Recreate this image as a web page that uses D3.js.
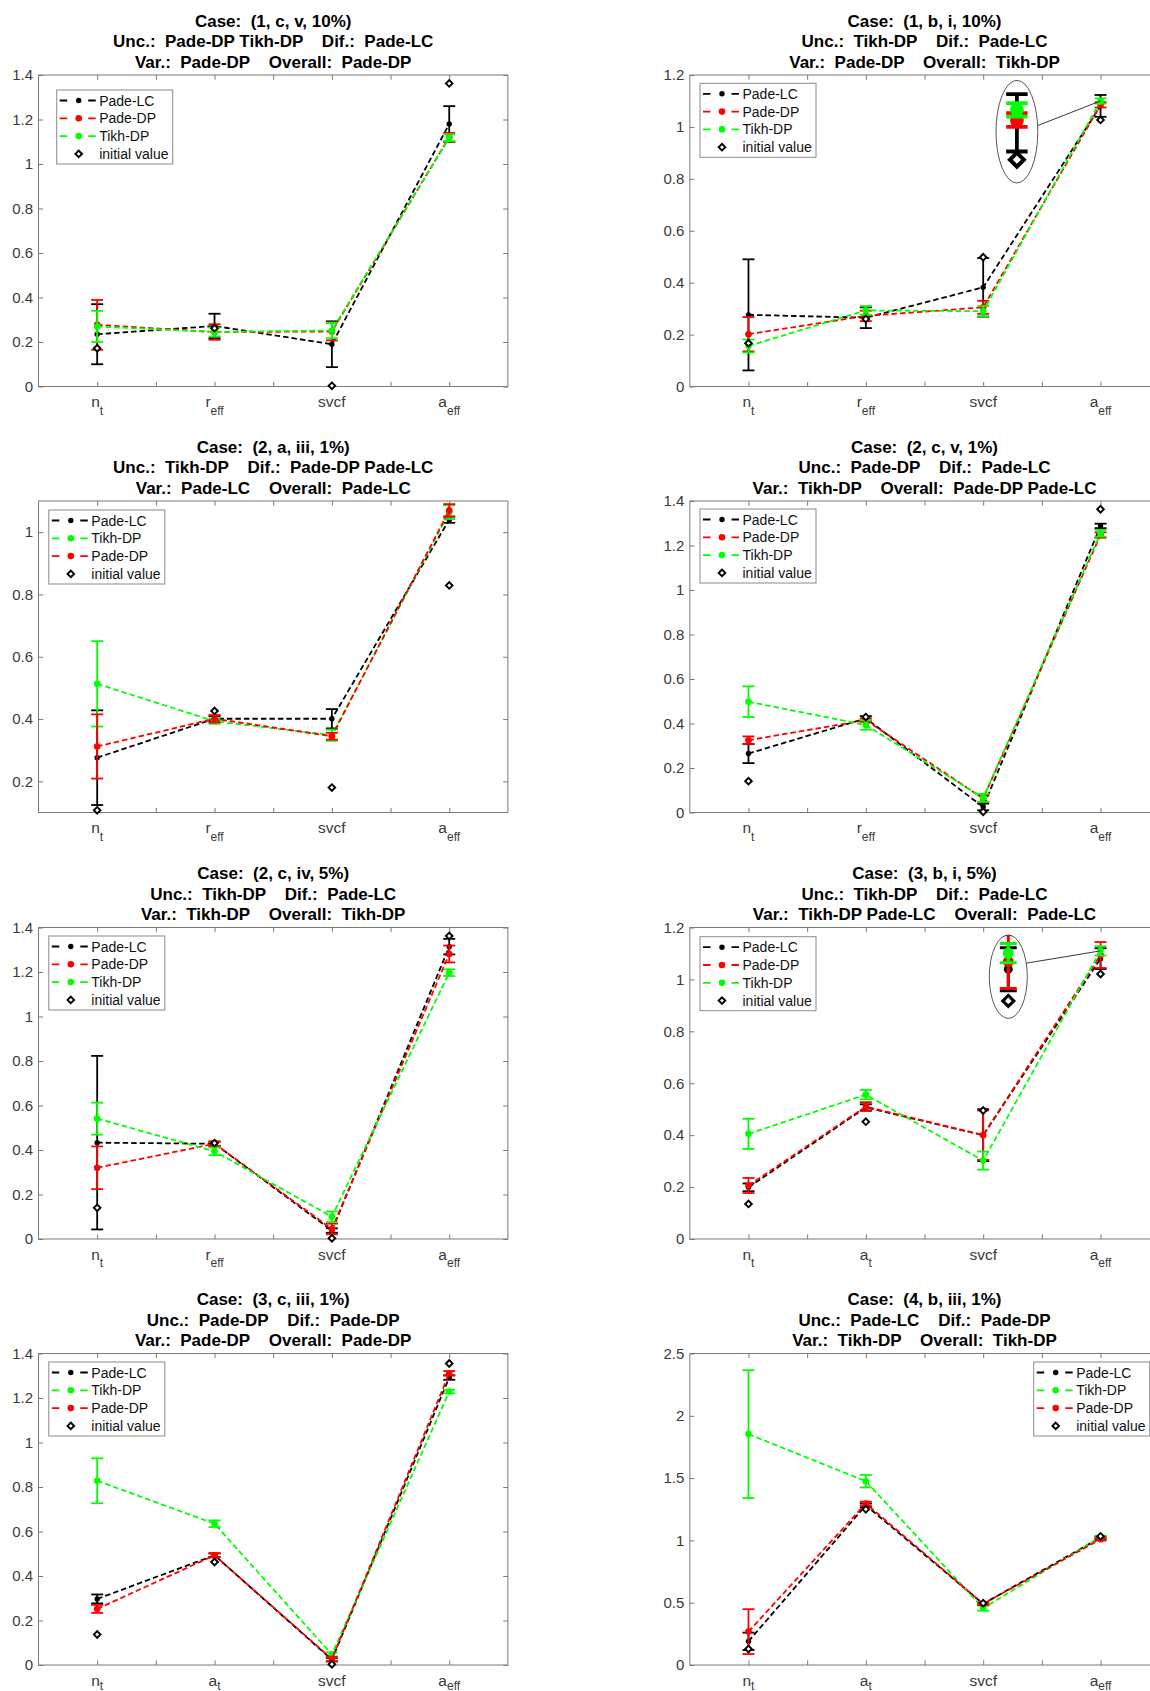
<!DOCTYPE html>
<html>
<head>
<meta charset="utf-8">
<script src="https://cdn.jsdelivr.net/npm/d3@7"></script>
<style>
body { margin: 0; background: #fff; }
text { font-family: "Liberation Sans", Arial, sans-serif; }
</style>
</head>
<body>
<div id="chart"></div>
<script>
// ---- data ----
const titleLines = [
    ["Case:  (1, c, v, 10%)", "Unc.:  Pade-DP Tikh-DP    Dif.:  Pade-LC", "Var.:  Pade-DP    Overall:  Pade-DP"],
    ["Case:  (1, b, i, 10%)", "Unc.:  Tikh-DP    Dif.:  Pade-LC", "Var.:  Pade-DP    Overall:  Tikh-DP"],
    ["Case:  (2, a, iii, 1%)", "Unc.:  Tikh-DP    Dif.:  Pade-DP Pade-LC", "Var.:  Pade-LC    Overall:  Pade-LC"],
    ["Case:  (2, c, v, 1%)", "Unc.:  Pade-DP    Dif.:  Pade-LC", "Var.:  Tikh-DP    Overall:  Pade-DP Pade-LC"],
    ["Case:  (2, c, iv, 5%)", "Unc.:  Tikh-DP    Dif.:  Pade-LC", "Var.:  Tikh-DP    Overall:  Tikh-DP"],
    ["Case:  (3, b, i, 5%)", "Unc.:  Tikh-DP    Dif.:  Pade-LC", "Var.:  Tikh-DP Pade-LC    Overall:  Pade-LC"],
    ["Case:  (3, c, iii, 1%)", "Unc.:  Pade-DP    Dif.:  Pade-DP", "Var.:  Pade-DP    Overall:  Pade-DP"],
    ["Case:  (4, b, iii, 1%)", "Unc.:  Pade-LC    Dif.:  Pade-DP", "Var.:  Tikh-DP    Overall:  Tikh-DP"]
];

// parameter names: [base, subscript]
const paramsReff = [["n", "t"], ["r", "eff"], ["svcf", ""], ["a", "eff"]];
const paramsAt = [["n", "t"], ["a", "t"], ["svcf", ""], ["a", "eff"]];
const panelParams = [paramsReff, paramsReff, paramsReff, paramsReff, paramsReff, paramsAt, paramsAt, paramsAt];

const yDomains = [[0, 1.4], [0, 1.2], [0.1, 1.1], [0, 1.4], [0, 1.4], [0, 1.2], [0, 1.4], [0, 2.5]];
const yTicks = [
    [0, 0.2, 0.4, 0.6, 0.8, 1, 1.2, 1.4],
    [0, 0.2, 0.4, 0.6, 0.8, 1, 1.2],
    [0.2, 0.4, 0.6, 0.8, 1],
    [0, 0.2, 0.4, 0.6, 0.8, 1, 1.2, 1.4],
    [0, 0.2, 0.4, 0.6, 0.8, 1, 1.2, 1.4],
    [0, 0.2, 0.4, 0.6, 0.8, 1, 1.2],
    [0, 0.2, 0.4, 0.6, 0.8, 1, 1.2, 1.4],
    [0, 0.5, 1, 1.5, 2, 2.5]
];

// legend / drawing order of the methods in each panel
const methodOrder = [
    ["Pade-LC", "Pade-DP", "Tikh-DP"],
    ["Pade-LC", "Pade-DP", "Tikh-DP"],
    ["Pade-LC", "Tikh-DP", "Pade-DP"],
    ["Pade-LC", "Pade-DP", "Tikh-DP"],
    ["Pade-LC", "Pade-DP", "Tikh-DP"],
    ["Pade-LC", "Pade-DP", "Tikh-DP"],
    ["Pade-LC", "Tikh-DP", "Pade-DP"],
    ["Pade-LC", "Tikh-DP", "Pade-DP"]
];

const padeLCVal = [
    [0.235, 0.272, 0.19, 1.18],
    [0.276, 0.265, 0.382, 1.081],
    [0.276, 0.401, 0.401, 1.04],
    [0.265, 0.423, 0.025, 1.288],
    [0.433, 0.428, 0.038, 1.314],
    [0.199, 0.507, 0.40, 1.08],
    [0.297, 0.493, 0.024, 1.292],
    [0.19, 1.282, 0.491, 1.022]
];
const padeLCErr = [
    [0.135, 0.055, 0.103, 0.08],
    [0.214, 0.04, 0.113, 0.042],
    [0.152, 0.008, 0.031, 0.01],
    [0.043, 0.01, 0.015, 0.01],
    [0.39, 0.01, 0.01, 0.035],
    [0.015, 0.012, 0.1, 0.04],
    [0.02, 0.008, 0.008, 0.01],
    [0.07, 0.015, 0.01, 0.01]
];
const padeDPVal = [
    [0.277, 0.245, 0.247, 1.12],
    [0.2015, 0.272, 0.305, 1.085],
    [0.312, 0.401, 0.345, 1.07],
    [0.325, 0.415, 0.063, 1.247],
    [0.32, 0.428, 0.045, 1.281],
    [0.206, 0.51, 0.40, 1.094],
    [0.252, 0.493, 0.027, 1.311],
    [0.268, 1.296, 0.491, 1.009]
];
const padeDPErr = [
    [0.112, 0.035, 0.04, 0.02],
    [0.066, 0.02, 0.025, 0.01],
    [0.103, 0.012, 0.011, 0.02],
    [0.017, 0.008, 0.015, 0.012],
    [0.096, 0.01, 0.024, 0.038],
    [0.029, 0.017, 0.095, 0.05],
    [0.018, 0.01, 0.01, 0.01],
    [0.18, 0.015, 0.01, 0.01]
];
const tikhDPVal = [
    [0.27, 0.245, 0.252, 1.118],
    [0.156, 0.293, 0.29, 1.1],
    [0.513, 0.393, 0.348, 1.064],
    [0.498, 0.393, 0.066, 1.255],
    [0.541, 0.394, 0.10, 1.197],
    [0.405, 0.556, 0.302, 1.11],
    [0.828, 0.635, 0.047, 1.229],
    [1.853, 1.475, 0.456, 1.027]
];
const tikhDPErr = [
    [0.07, 0.02, 0.035, 0.015],
    [0.025, 0.017, 0.02, 0.01],
    [0.137, 0.008, 0.018, 0.022],
    [0.069, 0.021, 0.018, 0.015],
    [0.072, 0.017, 0.024, 0.015],
    [0.058, 0.018, 0.035, 0.018],
    [0.101, 0.015, 0.01, 0.008],
    [0.513, 0.05, 0.02, 0.01]
];
const initialVal = [
    [0.172, 0.262, 0.003, 1.362],
    [0.167, 0.26, 0.498, 1.027],
    [0.107, 0.426, 0.18, 0.829],
    [0.141, 0.429, 0.003, 1.363],
    [0.14, 0.431, 0.003, 1.362],
    [0.135, 0.452, 0.495, 1.021],
    [0.137, 0.463, 0.003, 1.355],
    [0.129, 1.25, 0.496, 1.033]
];

// ---- layout ----
const width = 1150, height = 1691;
const boxW = 469.4, boxH = 311.5;
const colX = [38.5, 689.8];
const rowY = [75, 501, 927.5, 1353.5];
const legendPos = [[56.7, 90], [700, 83.3], [48.8, 510], [700, 509], [48.8, 936], [700, 936.7], [48.8, 1362], [1033.7, 1362]];
// magnified views of the a_eff error bars
const insets = [
    {panel: 1, cx: 1016.9, cy: 131.7, rx: 20.9, ry: 51.3, mag: 2.63, vc: 1.068, ang: -0.12},
    {panel: 5, cx: 1008.3, cy: 976.7, rx: 19, ry: 41.7, mag: 2.07, vc: 1.066, ang: -0.33}
];

const color = d3.scaleOrdinal()
    .domain(["Pade-LC", "Pade-DP", "Tikh-DP"])
    .range(["#000000", "#ff0000", "#00ff00"]);
const seriesData = {
    "Pade-LC": {val: padeLCVal, err: padeLCErr},
    "Pade-DP": {val: padeDPVal, err: padeDPErr},
    "Tikh-DP": {val: tikhDPVal, err: tikhDPErr}
};

const tickLen = 4.7;
const axisColor = "#7a7a7a";
const capHalf = 6;
const lineW = 1.8;
const dotR = name => name === "Pade-LC" ? 2.7 : 3.3;
const diamond = d3.symbol(d3.symbolSquare, 22);
const diamondW = 1.9;

const svg = d3.select("#chart").append("svg")
    .attr("width", width)
    .attr("height", height)
    .attr("viewBox", [0, 0, width, height]);
svg.append("rect").attr("width", width).attr("height", height).attr("fill", "#fff");

const drawErrorBars = (g, pts, sx, sy, col, cap, sw) => {
    const bars = g.append("g").attr("stroke", col).attr("stroke-width", sw).attr("fill", "none");
    pts.forEach(d => {
        const lo = sy(d.v - d.e), hi = sy(d.v + d.e), px = sx(d.i + 1);
        bars.append("path").attr("d", d3.line()([[px, lo], [px, hi]]));
        bars.append("path").attr("d", d3.line()([[px - cap, lo], [px + cap, lo]]));
        bars.append("path").attr("d", d3.line()([[px - cap, hi], [px + cap, hi]]));
    });
};

d3.range(8).forEach(p => {
    const x0 = colX[p % 2], y0 = rowY[Math.floor(p / 2)];
    const x = d3.scaleLinear().domain([0.5, 4.5]).range([x0, x0 + boxW]);
    const y = d3.scaleLinear().domain(yDomains[p]).range([y0 + boxH, y0]);
    const g = svg.append("g");

    // title
    titleLines[p].forEach((t, i) => {
        g.append("text")
            .attr("x", x0 + boxW / 2)
            .attr("y", y0 - 48.5 + i * 20.6)
            .attr("text-anchor", "middle")
            .attr("font-size", 17)
            .attr("font-weight", "bold")
            .attr("fill", "#000")
            .style("white-space", "pre")
            .text(t);
    });

    // axes (ticks pointing inward, box on)
    const xt = d3.range(1, 4.01, 0.5);
    const styleAxis = a => {
        a.select(".domain").remove();
        a.selectAll(".tick line").attr("stroke", axisColor);
    };
    g.append("g").attr("transform", `translate(0,${y0 + boxH})`)
        .call(d3.axisBottom(x).tickValues(xt).tickSize(-tickLen).tickFormat(""))
        .call(styleAxis);
    g.append("g").attr("transform", `translate(0,${y0})`)
        .call(d3.axisTop(x).tickValues(xt).tickSize(-tickLen).tickFormat(""))
        .call(styleAxis);
    g.append("g").attr("transform", `translate(${x0 + boxW},0)`)
        .call(d3.axisRight(y).tickValues(yTicks[p]).tickSize(-tickLen).tickFormat(""))
        .call(styleAxis);
    const left = g.append("g").attr("transform", `translate(${x0},0)`)
        .call(d3.axisLeft(y).tickValues(yTicks[p]).tickSize(-tickLen).tickPadding(5.5).tickFormat(d3.format("~g")))
        .call(styleAxis);
    left.selectAll(".tick text")
        .attr("font-size", 15)
        .attr("font-family", "Liberation Sans, Arial, sans-serif")
        .attr("fill", "#3a3a3a");

    g.append("rect")
        .attr("x", x0).attr("y", y0).attr("width", boxW).attr("height", boxH)
        .attr("fill", "none").attr("stroke", axisColor).attr("stroke-width", 1);

    // x labels with subscripts (kept inside the page on the bottom row)
    const labY = y0 + boxH + 20.6;
    const subDy = Math.min(7.7, height - 1.5 - labY);
    panelParams[p].forEach((lab, i) => {
        const t = g.append("text")
            .attr("x", x(i + 1))
            .attr("y", labY)
            .attr("text-anchor", "middle")
            .attr("font-size", 15.5)
            .attr("fill", "#3a3a3a");
        t.append("tspan").text(lab[0]);
        if (lab[1]) t.append("tspan").attr("font-size", 12).attr("dy", subDy).text(lab[1]);
    });

    // series: dashed line, error bars, dots
    methodOrder[p].forEach(name => {
        const s = seriesData[name];
        const pts = s.val[p].map((v, i) => ({i, v, e: s.err[p][i]}));
        const col = color(name);
        g.append("path")
            .attr("d", d3.line().x(d => x(d.i + 1)).y(d => y(d.v))(pts))
            .attr("fill", "none")
            .attr("stroke", col)
            .attr("stroke-width", lineW)
            .attr("stroke-dasharray", "5.5,3");
        drawErrorBars(g, pts, x, y, col, capHalf, lineW);
        g.append("g").selectAll("circle").data(pts).join("circle")
            .attr("cx", d => x(d.i + 1))
            .attr("cy", d => y(d.v))
            .attr("r", dotR(name))
            .attr("fill", col);
    });

    // initial values
    g.append("g").selectAll("path").data(initialVal[p]).join("path")
        .attr("d", diamond)
        .attr("transform", (d, i) => `translate(${x(i + 1)},${y(d)}) rotate(45)`)
        .attr("fill", "#fff")
        .attr("stroke", "#000")
        .attr("stroke-width", diamondW);

    // legend
    const [lx, ly] = legendPos[p];
    const lg = g.append("g").attr("transform", `translate(${lx},${ly})`);
    lg.append("rect").attr("width", 116).attr("height", 74)
        .attr("fill", "#fff").attr("stroke", "#8a8a8a").attr("stroke-width", 1);
    const rows = methodOrder[p].concat(["initial value"]);
    rows.forEach((name, i) => {
        const ry = 10.5 + i * 17.8;
        if (name !== "initial value") {
            const col = color(name);
            lg.append("path")
                .attr("d", d3.line()([[3, ry], [39, ry]]))
                .attr("stroke", col).attr("stroke-width", lineW)
                .attr("stroke-dasharray", "7.5,21,7.5");
            lg.append("circle").attr("cx", 22).attr("cy", ry).attr("r", dotR(name)).attr("fill", col);
        } else {
            lg.append("path").attr("d", diamond)
                .attr("transform", `translate(22,${ry}) rotate(45)`)
                .attr("fill", "#fff").attr("stroke", "#000").attr("stroke-width", diamondW);
        }
        lg.append("text").attr("x", 42.5).attr("y", ry + 5)
            .attr("font-size", 14).attr("fill", "#111").text(name);
    });

    // magnified inset
    insets.filter(d => d.panel === p).forEach(ins => {
        const k = ins.mag;
        const pxPerUnit = boxH / (yDomains[p][1] - yDomains[p][0]);
        const half = ins.ry / (pxPerUnit * k);
        const iy = d3.scaleLinear().domain([ins.vc - half, ins.vc + half]).range([ins.cy + ins.ry, ins.cy - ins.ry]);
        const ix = d3.scaleLinear().domain([3.5, 4.5]).range([ins.cx - 1, ins.cx + 1]);
        const target = [x(4), y(tikhDPVal[p][3])];
        const start = [ins.cx + ins.rx * Math.cos(ins.ang), ins.cy + ins.ry * Math.sin(ins.ang)];
        g.append("path").attr("d", d3.line()([start, target]))
            .attr("stroke", "#222").attr("stroke-width", 0.9).attr("fill", "none");
        const clipId = `inset-clip-${p}`;
        g.append("clipPath").attr("id", clipId)
            .append("ellipse").attr("cx", ins.cx).attr("cy", ins.cy).attr("rx", ins.rx).attr("ry", ins.ry);
        g.append("ellipse").attr("cx", ins.cx).attr("cy", ins.cy).attr("rx", ins.rx).attr("ry", ins.ry)
            .attr("fill", "#fff");
        const ig = g.append("g").attr("clip-path", `url(#${clipId})`);
        methodOrder[p].forEach(name => {
            const s = seriesData[name];
            const pts = [{i: 3, v: s.val[p][3], e: s.err[p][3]}];
            const col = color(name);
            drawErrorBars(ig, pts, ix, iy, col, capHalf * k * 0.68, lineW * k * 0.8);
            ig.append("circle").attr("cx", ix(4)).attr("cy", iy(pts[0].v))
                .attr("r", dotR(name) * k * 0.8).attr("fill", col);
        });
        ig.append("path").attr("d", diamond)
            .attr("transform", `translate(${ix(4)},${iy(initialVal[p][3])}) scale(${k * 0.8}) rotate(45)`)
            .attr("fill", "#fff").attr("stroke", "#000").attr("stroke-width", diamondW);
        g.append("ellipse").attr("cx", ins.cx).attr("cy", ins.cy).attr("rx", ins.rx).attr("ry", ins.ry)
            .attr("fill", "none").attr("stroke", "#444").attr("stroke-width", 0.9);
    });
});
</script>
</body>
</html>
